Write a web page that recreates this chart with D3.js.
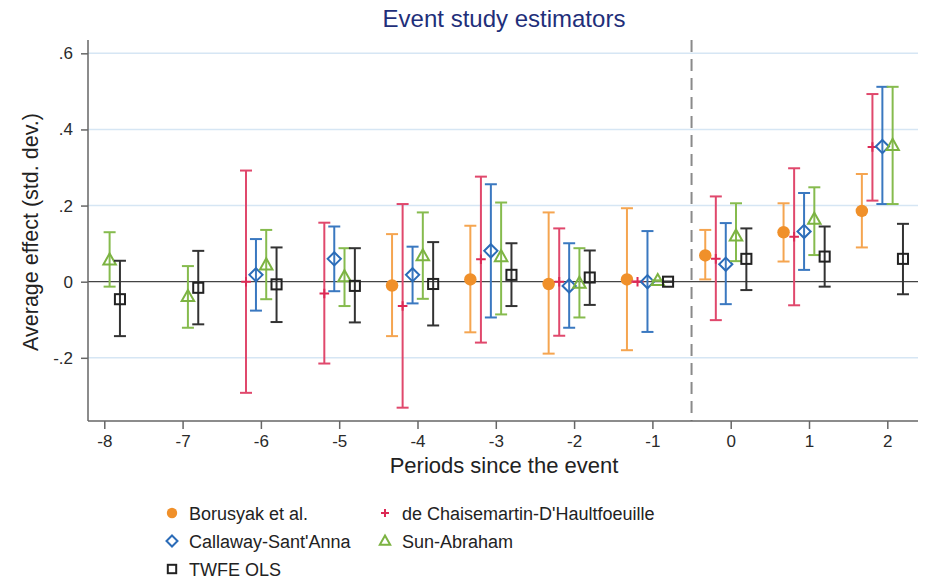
<!DOCTYPE html>
<html lang="en">
<head>
<meta charset="UTF-8">
<title>Event study estimators</title>
<script src="https://d3js.org/d3.v7.min.js"></script>
<style>
  body { margin: 0; background: #fff; font-family: "Liberation Sans", Arial, sans-serif; }
  svg { display: block; }
  .axis path, .axis line { stroke: #666; stroke-width: 1.5; }
  .axis text { font-size: 17px; fill: #2a2a2a; font-family: "Liberation Sans", Arial, sans-serif; }
</style>
</head>
<body>
<svg width="926" height="584"></svg>
<script>
// periods since the event
const periods = [-8, -7, -6, -5, -4, -3, -2, -1, 0, 1, 2];

// point estimates and 95% CI bounds (null = not estimated)
const borusyakEst = [null, null, null, null, -0.010, 0.006, -0.006, 0.006, 0.069, 0.130, 0.186];
const borusyakLo  = [null, null, null, null, -0.143, -0.133, -0.189, -0.180, 0.006, 0.053, 0.090];
const borusyakHi  = [null, null, null, null, 0.125, 0.147, 0.182, 0.193, 0.136, 0.206, 0.283];

const dcdhEst = [null, null, 0.000, -0.031, -0.064, 0.059, 0.000, 0.000, 0.060, 0.118, 0.354];
const dcdhLo  = [null, null, -0.292, -0.215, -0.331, -0.160, -0.142, 0.000, -0.101, -0.062, 0.213];
const dcdhHi  = [null, null, 0.292, 0.155, 0.204, 0.276, 0.140, 0.000, 0.224, 0.298, 0.493];

const csEst = [null, null, 0.018, 0.060, 0.018, 0.081, -0.011, 0.000, 0.046, 0.132, 0.355];
const csLo  = [null, null, -0.076, -0.025, -0.057, -0.094, -0.121, -0.132, -0.059, 0.031, 0.204];
const csHi  = [null, null, 0.112, 0.145, 0.092, 0.256, 0.101, 0.133, 0.154, 0.233, 0.512];

const saEst = [0.057, -0.039, 0.044, 0.013, 0.068, 0.066, -0.004, 0.003, 0.120, 0.164, 0.358];
const saLo  = [-0.013, -0.121, -0.046, -0.064, -0.045, -0.086, -0.094, 0.003, 0.054, 0.070, 0.204];
const saHi  = [0.130, 0.041, 0.136, 0.088, 0.182, 0.208, 0.088, 0.003, 0.206, 0.248, 0.512];

const twfeEst = [-0.046, -0.016, -0.007, -0.011, -0.006, 0.018, 0.011, 0.000, 0.060, 0.066, 0.060];
const twfeLo  = [-0.143, -0.112, -0.106, -0.107, -0.115, -0.064, -0.061, 0.000, -0.022, -0.013, -0.033];
const twfeHi  = [0.055, 0.081, 0.090, 0.088, 0.104, 0.101, 0.082, 0.000, 0.140, 0.145, 0.152];

const yTicks = [-0.2, 0, 0.2, 0.4, 0.6];
const yTickLabels = ["-.2", "0", ".2", ".4", ".6"];

const series = [
  { name: "Borusyak et al.", est: borusyakEst, lo: borusyakLo, hi: borusyakHi, shift: -0.325, color: "#f0902a", ci: "#f5a550", symbol: "circle" },
  { name: "de Chaisemartin-D'Haultfoeuille", est: dcdhEst, lo: dcdhLo, hi: dcdhHi, shift: -0.19, color: "#dc2a55", ci: "#e0486c", symbol: "plus" },
  { name: "Callaway-Sant'Anna", est: csEst, lo: csLo, hi: csHi, shift: -0.063, color: "#2b6cb8", ci: "#3a78c0", symbol: "diamond" },
  { name: "Sun-Abraham", est: saEst, lo: saLo, hi: saHi, shift: 0.068, color: "#7cb342", ci: "#86bb4e", symbol: "triangle" },
  { name: "TWFE OLS", est: twfeEst, lo: twfeLo, hi: twfeHi, shift: 0.2, color: "#222222", ci: "#333333", symbol: "square" }
];

const svg = d3.select("svg");
const plot = { left: 88, right: 918, top: 40, bottom: 421 };

const x = d3.scaleLinear().domain([-8.208, 2.392]).range([plot.left, plot.right]);
const y = d3.scaleLinear().domain([-0.366, 0.635]).range([plot.bottom, plot.top]);

// grid lines
svg.append("g").selectAll("line")
  .data(yTicks.filter(d => d !== 0))
  .enter().append("line")
  .attr("x1", plot.left).attr("x2", plot.right)
  .attr("y1", d => y(d)).attr("y2", d => y(d))
  .attr("stroke", "#d6e6f4").attr("stroke-width", 1.5);

// zero line
svg.append("line")
  .attr("x1", plot.left).attr("x2", plot.right)
  .attr("y1", y(0)).attr("y2", y(0))
  .attr("stroke", "#444").attr("stroke-width", 1.2);

// event line
svg.append("line")
  .attr("x1", x(-0.5)).attr("x2", x(-0.5))
  .attr("y1", plot.top).attr("y2", plot.bottom)
  .attr("stroke", "#8a8a8a").attr("stroke-width", 2)
  .attr("stroke-dasharray", "12,7");

// axes
svg.append("g").attr("class", "axis y-axis")
  .attr("transform", `translate(${plot.left},0)`)
  .call(d3.axisLeft(y).tickValues(yTicks)
    .tickFormat((d, i) => yTickLabels[i]).tickSize(7).tickPadding(8).tickSizeOuter(0));

svg.append("g").attr("class", "axis x-axis")
  .attr("transform", `translate(0,${plot.bottom})`)
  .call(d3.axisBottom(x).tickValues(periods).tickFormat(d => String(d))
    .tickSize(8).tickPadding(6).tickSizeOuter(0));

svg.select(".y-axis .domain").attr("d", `M0,${plot.top}V${plot.bottom}`);
svg.select(".x-axis .domain").attr("d", `M${plot.left},0H${plot.right}`);

// marker shapes
function drawMarker(g, symbol, color, size) {
  const s = size;
  if (symbol === "circle") {
    g.append("circle").attr("r", s * 0.52).attr("fill", color);
  } else if (symbol === "plus") {
    g.append("path").attr("d", `M${-s * 0.4},0H${s * 0.4}M0,${-s * 0.4}V${s * 0.4}`)
      .attr("stroke", color).attr("stroke-width", 2).attr("fill", "none");
  } else if (symbol === "diamond") {
    g.append("path").attr("d", `M0,${-s * 0.55}L${s * 0.55},0L0,${s * 0.55}L${-s * 0.55},0Z`)
      .attr("stroke", color).attr("stroke-width", 2).attr("fill", "none");
  } else if (symbol === "triangle") {
    g.append("path").attr("d", `M0,${-s * 0.55}L${s * 0.52},${s * 0.38}L${-s * 0.52},${s * 0.38}Z`)
      .attr("stroke", color).attr("stroke-width", 2).attr("fill", "none");
  } else if (symbol === "square") {
    g.append("rect").attr("x", -s * 0.42).attr("y", -s * 0.42)
      .attr("width", s * 0.84).attr("height", s * 0.84)
      .attr("stroke", color).attr("stroke-width", 2).attr("fill", "none");
  }
}

// error bars and points
series.forEach(sr => {
  const pts = periods.map((p, i) => ({ p, est: sr.est[i], lo: sr.lo[i], hi: sr.hi[i] }))
    .filter(d => d.est !== null);
  const g = svg.append("g");
  const cap = 6;
  pts.forEach(d => {
    const cx = x(d.p + sr.shift);
    g.append("line").attr("x1", cx).attr("x2", cx).attr("y1", y(d.lo)).attr("y2", y(d.hi))
      .attr("stroke", sr.ci).attr("stroke-width", 2);
    [d.lo, d.hi].forEach(v => {
      g.append("line").attr("x1", cx - cap).attr("x2", cx + cap).attr("y1", y(v)).attr("y2", y(v))
        .attr("stroke", sr.ci).attr("stroke-width", 2);
    });
    const m = g.append("g").attr("transform", `translate(${cx},${y(d.est)})`);
    drawMarker(m, sr.symbol, sr.color, 12);
  });
});

// title and axis titles
svg.append("text").attr("x", 504).attr("y", 27).attr("text-anchor", "middle")
  .attr("font-size", 24).attr("fill", "#1f2f7a").text("Event study estimators");

svg.append("text").attr("x", 504).attr("y", 473).attr("text-anchor", "middle")
  .attr("font-size", 22).attr("fill", "#222").text("Periods since the event");

svg.append("text").attr("transform", "translate(38,232) rotate(-90)").attr("text-anchor", "middle")
  .attr("font-size", 21.5).attr("fill", "#222").text("Average effect (std. dev.)");

// legend
const legendPos = [[172, 513], [385, 513], [172, 541], [385, 541], [172, 569]];
series.forEach((sr, i) => {
  const [lx, ly] = legendPos[i];
  const m = svg.append("g").attr("transform", `translate(${lx},${ly})`);
  drawMarker(m, sr.symbol, sr.color, 10);
  svg.append("text").attr("x", lx + 17).attr("y", ly + 6.5)
    .attr("font-size", 18).attr("fill", "#222").text(sr.name);
});
</script>
</body>
</html>
